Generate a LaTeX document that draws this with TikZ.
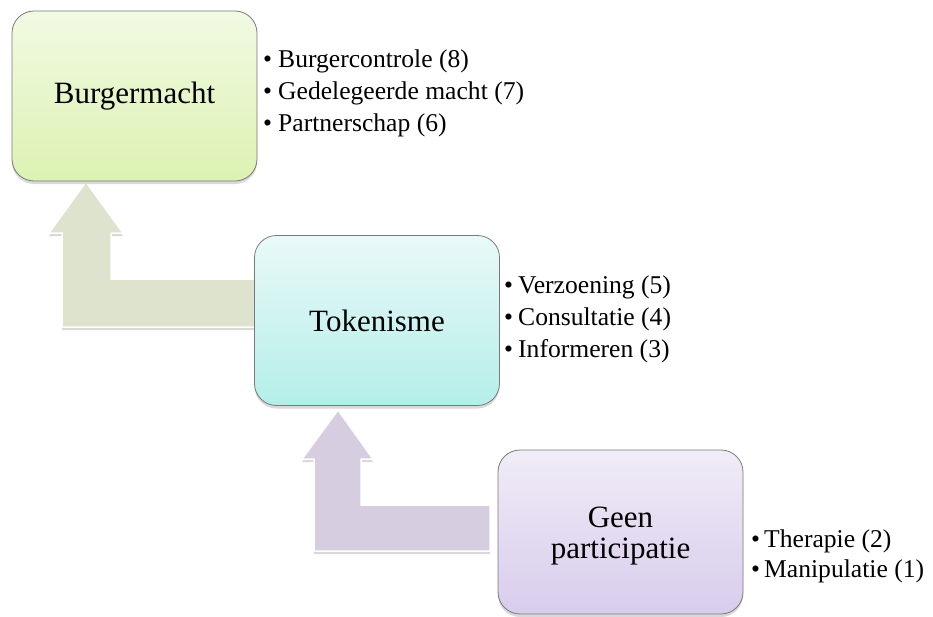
\documentclass[tikz,border=0pt]{standalone}
\usepackage{fontspec}
\setmainfont{Liberation Serif}
\usetikzlibrary{shadows}
\definecolor{gtop}{HTML}{F2FAE3}
\definecolor{gbot}{HTML}{DCF2B2}
\definecolor{ctop}{HTML}{E9F9F9}
\definecolor{cbot}{HTML}{B4EEE8}
\definecolor{ptop}{HTML}{F0ECF7}
\definecolor{pbot}{HTML}{D8CCEC}
\definecolor{garrow}{HTML}{DDE3CD}
\definecolor{parrow}{HTML}{D6CDE1}
\definecolor{edgegray}{HTML}{7A7A7A}
\begin{document}
\begin{tikzpicture}[x=1pt,y=-1pt,
  level/.style={draw=edgegray, line width=0.8pt, rounded corners=22pt,
    minimum width=245pt, minimum height=170pt, inner sep=0pt, align=center,
    font=\fontsize{31}{31}\selectfont,
    drop shadow={opacity=0.3, shadow xshift=0pt, shadow yshift=-3pt}},
  bentarrow/.style={draw=white, line width=1.5pt, line join=miter,
    drop shadow={opacity=0.3, shadow xshift=0pt, shadow yshift=-3pt}},
  item/.style={anchor=base west, inner sep=0pt, font=\fontsize{25.6}{30}\selectfont}]
\useasboundingbox (0,0) rectangle (933,616);

% bent-up arrows
\path[bentarrow, fill=garrow] (86,182) -- (123,233) -- (111,233) -- (111,279)
  -- (262,279) -- (262,327) -- (62,327) -- (62,233) -- (49,233) -- cycle;
\path[bentarrow, fill=parrow] (338,410) -- (373,459) -- (361,459) -- (361,505)
  -- (490,505) -- (490,551) -- (314,551) -- (314,459) -- (302,459) -- cycle;

% level boxes
\node[level, top color=gtop, bottom color=gbot] (burger) at (134.5,96) {Burgermacht};
\node[level, top color=ctop, bottom color=cbot] (token) at (377,320.5) {Tokenisme};
\node[level, top color=ptop, bottom color=pbot, minimum height=164pt] (geen) at (620.5,532)
  {\raisebox{-5pt}[\height][\depth]{\begin{tabular}{@{}c@{}}Geen\\participatie\end{tabular}}};

% bullet lists
\node[item] (b8) at (263,67) {\makebox[15pt][l]{\textbullet}Burgercontrole (8)};
\node[item] (b7) at (263,99) {\makebox[15pt][l]{\textbullet}Gedelegeerde macht (7)};
\node[item] (b6) at (263,131) {\makebox[15pt][l]{\textbullet}Partnerschap (6)};

\node[item] (b5) at (504,293) {\makebox[14pt][l]{\textbullet}Verzoening (5)};
\node[item] (b4) at (504,325) {\makebox[14pt][l]{\textbullet}Consultatie (4)};
\node[item] (b3) at (504,357) {\makebox[14pt][l]{\textbullet}Informeren (3)};

\node[item] (b2) at (751,547) {\makebox[13pt][l]{\textbullet}Therapie (2)};
\node[item] (b1) at (751,577) {\makebox[13pt][l]{\textbullet}Manipulatie (1)};
\end{tikzpicture}
\end{document}
